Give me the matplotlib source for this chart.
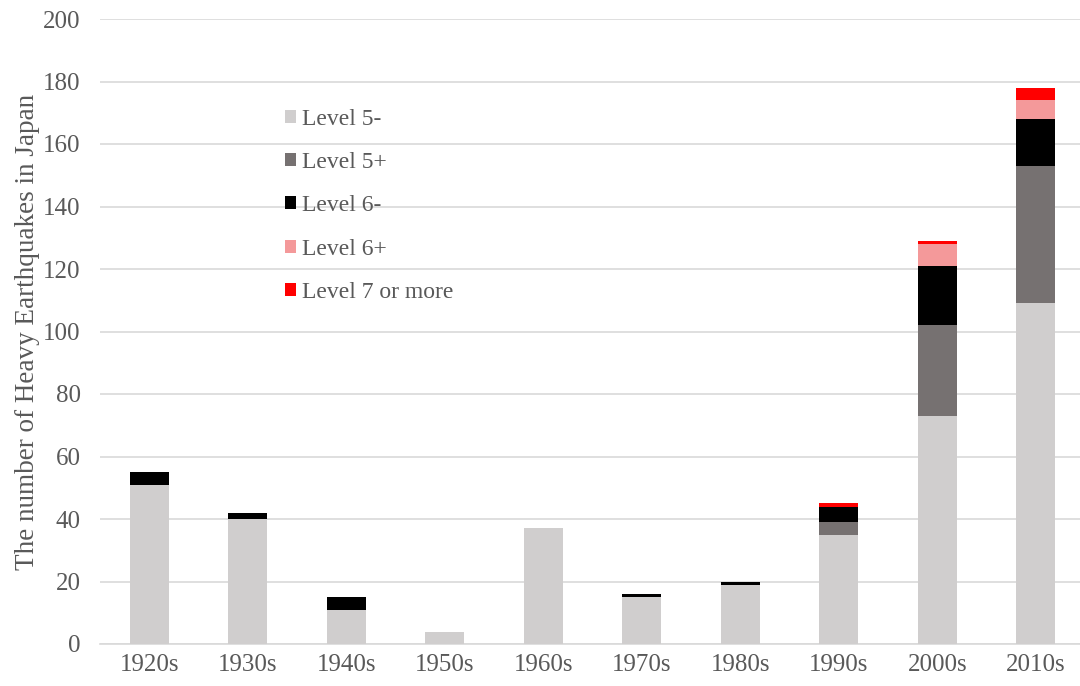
import numpy as np
import matplotlib.pyplot as plt
from matplotlib.patches import Patch

plt.rcParams['font.family'] = ['Liberation Serif', 'DejaVu Serif']

decades = ['1920s', '1930s', '1940s', '1950s', '1960s',
           '1970s', '1980s', '1990s', '2000s', '2010s']
level_5_minus = [51, 40, 11, 4, 37, 15, 19, 35, 73, 109]
level_5_plus = [0, 0, 0, 0, 0, 0, 0, 4, 29, 44]
level_6_minus = [4, 2, 4, 0, 0, 1, 1, 5, 19, 15]
level_6_plus = [0, 0, 0, 0, 0, 0, 0, 0, 7, 6]
level_7_more = [0, 0, 0, 0, 0, 0, 0, 1, 1, 4]

labels = ['Level 5-', 'Level 5+', 'Level 6-', 'Level 6+', 'Level 7 or more']
colors = ['#d0cece', '#767171', '#000000', '#f4999a', '#ff0000']
series = [level_5_minus, level_5_plus, level_6_minus, level_6_plus, level_7_more]

txt = '#595959'
grid = '#d9d9d9'

fig = plt.figure(figsize=(10.8, 6.86), dpi=100)
ax = fig.add_axes([100 / 1080, 42 / 686, 985 / 1080, 625 / 686])

x = np.arange(len(decades))
bottom = np.zeros(len(decades))
for vals, c, lab in zip(series, colors, labels):
    vals = np.array(vals, dtype=float)
    ax.bar(x, vals, width=0.4, bottom=bottom, color=c, label=lab, zorder=3)
    bottom += vals

ax.set_xlim(-0.5, len(decades) - 0.5)
ax.set_ylim(0, 200)
ax.set_yticks(np.arange(0, 201, 20))
ax.set_xticks(x)
ax.set_xticklabels(decades)
ax.yaxis.grid(True, color=grid, linewidth=1.2, zorder=0)
ax.tick_params(axis='both', length=0, labelsize=18, labelcolor=txt)
ax.tick_params(axis='y', pad=14)
ax.tick_params(axis='x', pad=7)
for s in ['top', 'right', 'left']:
    ax.spines[s].set_visible(False)
ax.spines['bottom'].set_color(grid)
ax.spines['bottom'].set_linewidth(1.2)
ax.set_ylabel('The number of Heavy Earthquakes in Japan', fontsize=19.5,
              color=txt, labelpad=2)

handles = [Patch(facecolor=c, label=l) for c, l in zip(colors, labels)]
leg = ax.legend(handles=handles, loc='upper left',
                bbox_to_anchor=((285 - 100) / 985, (644 - 109) / 625),
                frameon=False, fontsize=17, handlelength=0.47, handleheight=0.47,
                handletextpad=0.25, labelspacing=0.94, borderaxespad=0,
                borderpad=0)
for t in leg.get_texts():
    t.set_color(txt)

fig.savefig('out.png', dpi=100)
